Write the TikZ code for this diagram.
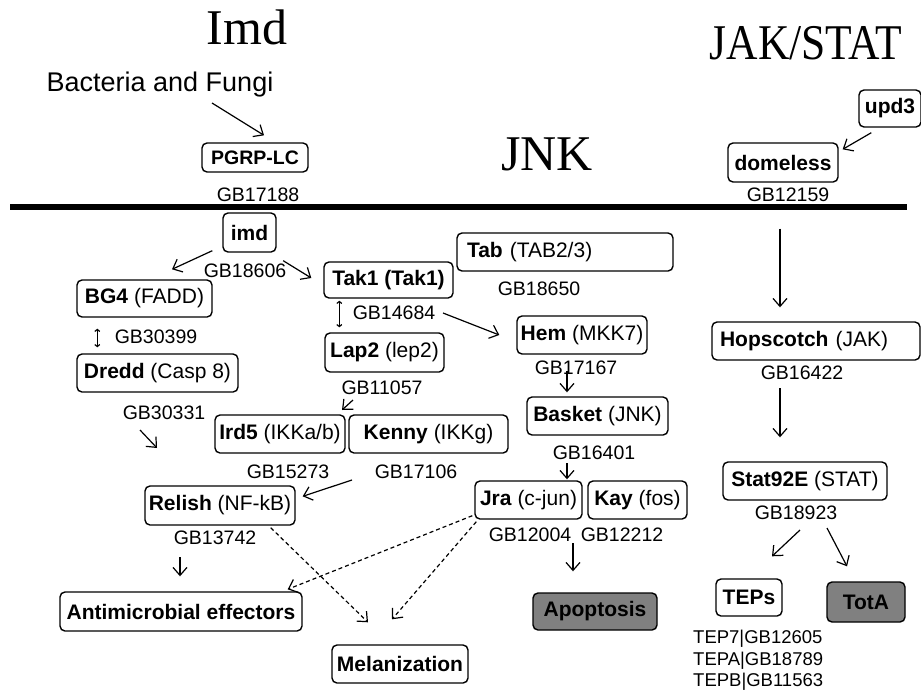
\documentclass[tikz,border=0pt]{standalone}
\usepackage{fontspec}
\setmainfont{Liberation Sans}
\newfontfamily\titlefont{Liberation Serif}
\usepackage{tikz}
\usetikzlibrary{arrows.meta,calc}
\definecolor{boxgray}{RGB}{128,128,128}

\tikzset{
  gene/.style={draw,rounded corners=5pt,line width=1.4pt,inner sep=0pt,
               minimum height=38pt,font=\fontsize{21}{24}\selectfont},
  grey box/.style={gene,fill=boxgray},
  gb/.style={inner sep=0pt,font=\fontsize{19.5}{22}\selectfont},
  path title/.style={inner sep=0pt,font=\titlefont\fontsize{50}{56}\selectfont},
  arr/.style={line width=1.2pt,-{Straight Barb[length=8pt,width=14pt]}},
  dash arr/.style={arr,dash pattern=on 4pt off 3pt},
  pair/.style={line width=1.2pt,{Straight Barb[length=2pt,width=5pt]}-{Straight Barb[length=2pt,width=5pt]}},
}

\begin{document}
\begin{tikzpicture}[x=1pt,y=-1pt]
  \useasboundingbox (0,0) rectangle (921,697);

  % pathway titles
  \node[path title] (imdtitle) at (247,27) {Imd};
  \node[path title] (jaktitle) at (806,43) {\scalebox{0.87}[1]{JAK/STAT}};
  \node[path title] (jnktitle) at (547,154) {JNK};
  \node[inner sep=0pt,font=\fontsize{27}{30}\selectfont] (bact) at (160,85) {Bacteria and Fungi};

  % receptors above the membrane
  \node[gene,minimum width=106pt,minimum height=29pt,font=\bfseries\fontsize{19.5}{22}\selectfont] (pgrp) at (255,157.5) {PGRP-LC};
  \node[gb] (gbpgrp) at (258,195) {GB17188};
  \node[gene,minimum width=62pt,minimum height=37pt,font=\bfseries\fontsize{21}{24}\selectfont] (upd) at (890,108.5) {upd3};
  \node[gene,minimum width=110pt,minimum height=39pt,font=\bfseries\fontsize{21}{24}\selectfont] (dome) at (783,162.5) {domeless};
  \node[gb] (gbdome) at (788,195) {GB12159};

  \draw[line width=6pt] (10,207) -- (907,207);

  % Imd branch
  \node[gene,minimum width=53pt,minimum height=39pt] (imd) at (249.5,232.5) {\textbf{imd}};
  \node[gb] (gbimd) at (245,271) {GB18606};
  \node[gene,minimum width=135pt,minimum height=37pt] (bgfour) at (144.5,298.5) {\textbf{BG4} (FADD)};
  \node[gb] (gbbg) at (156,337) {GB30399};
  \node[gene,minimum width=161pt] (dredd) at (157.5,373) {\textbf{Dredd} (Casp 8)};
  \node[gb] (gbdredd) at (164,413) {GB30331};
  \node[gene,minimum width=130pt] (ird) at (280,434) {\textbf{Ird5} (IKKa/b)};
  \node[gene,minimum width=159pt] (kenny) at (428.5,434) {\textbf{Kenny} (IKKg)};
  \node[gb] (gbird) at (288,472) {GB15273};
  \node[gb] (gbkenny) at (416,472) {GB17106};
  \node[gene,minimum width=150pt,minimum height=39pt] (relish) at (220,505.5) {\textbf{Relish} (NF-kB)};
  \node[gb] (gbrelish) at (215,538) {GB13742};
  \node[gene,minimum width=242pt,minimum height=39pt] (amp) at (181,611.5) {\textbf{Antimicrobial effectors}};
  \node[gene,minimum width=136pt] (mel) at (400,664) {\textbf{Melanization}};

  % JNK branch
  \node[gene,minimum width=129pt,minimum height=36pt] (tak) at (388.5,280) {\textbf{Tak1 (Tak1)}};
  \node[gene,text width=196pt,inner xsep=10pt,align=left] (tab) at (565,252) {\textbf{Tab} (TAB2/3)};
  \node[gb] (gbtab) at (539,289) {GB18650};
  \node[gb] (gbtak) at (394,313) {GB14684};
  \node[gene,minimum width=119pt,minimum height=39pt] (lap) at (384.5,352.5) {\textbf{Lap2} (lep2)};
  \node[gb] (gblap) at (382,388) {GB11057};
  \node[gene,minimum width=130pt] (hem) at (582,335) {\textbf{Hem} (MKK7)};
  \node[gb] (gbhem) at (576,368) {GB17167};
  \node[gene,minimum width=141pt] (basket) at (597.5,416) {\textbf{Basket} (JNK)};
  \node[gb] (gbbasket) at (594,453) {GB16401};
  \node[gene,minimum width=107pt] (jra) at (528.5,500) {\textbf{Jra} (c-jun)};
  \node[gene,minimum width=99pt] (kay) at (637.5,500) {\textbf{Kay} (fos)};
  \node[gb] (gbjra) at (530,535) {GB12004};
  \node[gb] (gbkay) at (622,535) {GB12212};
  \node[grey box,minimum width=124pt,minimum height=37pt] (apo) at (595,611.5) {\textbf{Apoptosis}};

  % JAK/STAT branch
  \node[gene,text width=192pt,inner xsep=8pt,align=left] (hop) at (816,341) {\textbf{Hopscotch} (JAK)};
  \node[gb] (gbhop) at (802,373) {GB16422};
  \node[gene,minimum width=164pt] (stat) at (805,481) {\textbf{Stat92E} (STAT)};
  \node[gb] (gbstat) at (796,513) {GB18923};
  \node[gene,minimum width=66pt,minimum height=37pt] (teps) at (749,597.5) {\textbf{TEPs}};
  \node[grey box,minimum width=78pt,minimum height=40pt] (tota) at (866,602) {\textbf{TotA}};
  \node[gb,anchor=north west,align=left,font=\fontsize{18.5}{21.5}\selectfont] (teplist) at (693,630)
    {TEP7|GB12605\\TEPA|GB18789\\TEPB|GB11563};

  % connectors
  \draw[arr] ($(bact)+(52,18)$) -- ($(pgrp.north)+(9,-7)$);
  \draw[arr] ($(upd.south west)+(13,5)$) -- ($(dome.north east)+(4,7)$);
  \draw[arr] ($(imd.south west)+(-10,-2)$) -- ($(bgfour.north)+(27.5,-10)$);
  \draw[arr] ($(imd.south east)+(6.5,8)$) -- ($(tak.west)+(-12,-2)$);
  \draw[pair] ($(bgfour.south west)+(21,11)$) -- ($(dredd.north west)+(21,-6)$);
  \draw[arr] ($(gbdredd)+(-24,17)$) -- ($(gbdredd)+(-7,35)$);
  \draw[pair] ($(tak.south west)+(16,2)$) -- ($(lap.north west)+(15,-5)$);
  \draw[arr] ($(gbtak)+(49,0)$) -- ($(hem.west)+(-17,0)$);
  \draw[arr] ($(gblap)+(-29,12)$) -- ($(gblap)+(-40,22)$);
  \draw[arr] ($(gbhem)+(-9,3)$) -- ($(basket.north)+(-30.5,-4)$);
  \draw[arr] ($(gbbasket)+(-27,10)$) -- ($(jra.north)+(38.5,-1)$);
  \draw[arr] ($(gbjra)+(43,8)$) -- ($(apo.north)+(-22,-21)$);
  \draw[arr] ($(gbkenny)+(-64,8)$) -- ($(relish.north east)+(7,11)$);
  \draw[arr] ($(gbrelish)+(-35,19)$) -- ($(amp.north)+(-1,-15)$);
  \draw[dash arr] ($(relish.south east)+(-25,2)$) -- ($(mel.north)+(-32,-22)$);
  \draw[dash arr] ($(jra.south west)+(-2,-4)$) -- ($(amp.north east)+(-15,-2)$);
  \draw[dash arr] ($(jra.south west)+(2,2)$) -- ($(mel.north)+(-8,-25)$);
  \draw[arr] ($(dome.south)+(-3,46)$) -- ($(hop.north)+(-36,-14)$);
  \draw[arr] ($(gbhop)+(-22,15)$) -- ($(stat.north)+(-25,-24)$);
  \draw[arr] ($(gbstat)+(4,17)$) -- ($(teps.north)+(23,-22)$);
  \draw[arr] ($(gbstat)+(31,15)$) -- ($(tota.north)+(-19,-15)$);
\end{tikzpicture}
\end{document}
